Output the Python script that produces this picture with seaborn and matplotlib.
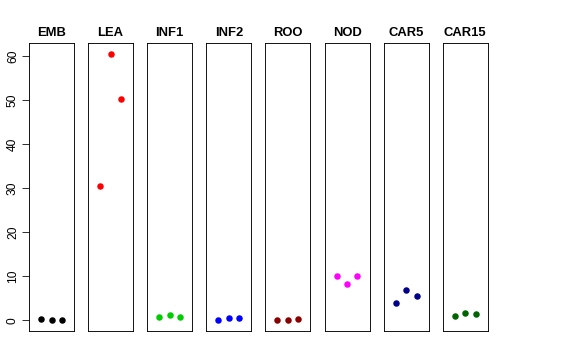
import matplotlib
matplotlib.use("Agg")
import matplotlib.pyplot as plt
import seaborn as sns
import pandas as pd

tissues = ["EMB", "LEA", "INF1", "INF2", "ROO", "NOD", "CAR5", "CAR15"]
colors = ["#000000", "#FF0000", "#00CD00", "#0000FF", "#8B0000", "#FF00FF", "#00008B", "#006400"]
emb = [0.3, 0.1, 0.0]
lea = [30.5, 60.5, 50.3]
inf1 = [0.7, 1.2, 0.7]
inf2 = [0.2, 0.5, 0.6]
roo = [0.0, 0.0, 0.4]
nod = [10.1, 8.2, 10.1]
car5 = [4.0, 6.8, 5.5]
car15 = [1.0, 1.6, 1.5]
values = [emb, lea, inf1, inf2, roo, nod, car5, car15]
replicates = [1, 2, 3]
yticks = [0, 10, 20, 30, 40, 50, 60]

rows = []
for t, vals in zip(tissues, values):
    for r, v in zip(replicates, vals):
        rows.append({"tissue": t, "rep": r, "value": v})
df = pd.DataFrame(rows)

sns.set_style("white")
plt.rcParams["font.family"] = ["Liberation Sans", "DejaVu Sans"]

W, H = 576, 360
fig = plt.figure(figsize=(W / 72, H / 72), dpi=72)

ymin = -2.4
ymax = 62.9
for i, (t, c) in enumerate(zip(tissues, colors)):
    left = 29 + 59.1 * i
    ax = fig.add_axes([left / W, 29 / H, 45 / W, 288 / H])
    sub = df[df["tissue"] == t]
    sns.scatterplot(data=sub, x="rep", y="value", color=c, s=42, linewidth=0, ax=ax)
    ax.set_xlim(-0.16, 4.16)
    ax.set_ylim(ymin, ymax)
    ax.set_xticks([])
    ax.set_xlabel("")
    ax.set_ylabel("")
    for sp in ax.spines.values():
        sp.set_visible(True)
        sp.set_color("black")
        sp.set_linewidth(0.9)
    ax.set_title(t, fontsize=13, fontweight="bold", pad=7, color="black")
    if i == 0:
        ax.set_yticks(yticks)
        ax.set_yticklabels([str(v) for v in yticks], rotation=90, va="center", fontsize=12, color="black")
        ax.tick_params(axis="y", length=7, width=0.8, direction="out", left=True, pad=3, colors="black", labelsize=12)
    else:
        ax.set_yticks([])

fig.savefig("out.png", dpi=72)
